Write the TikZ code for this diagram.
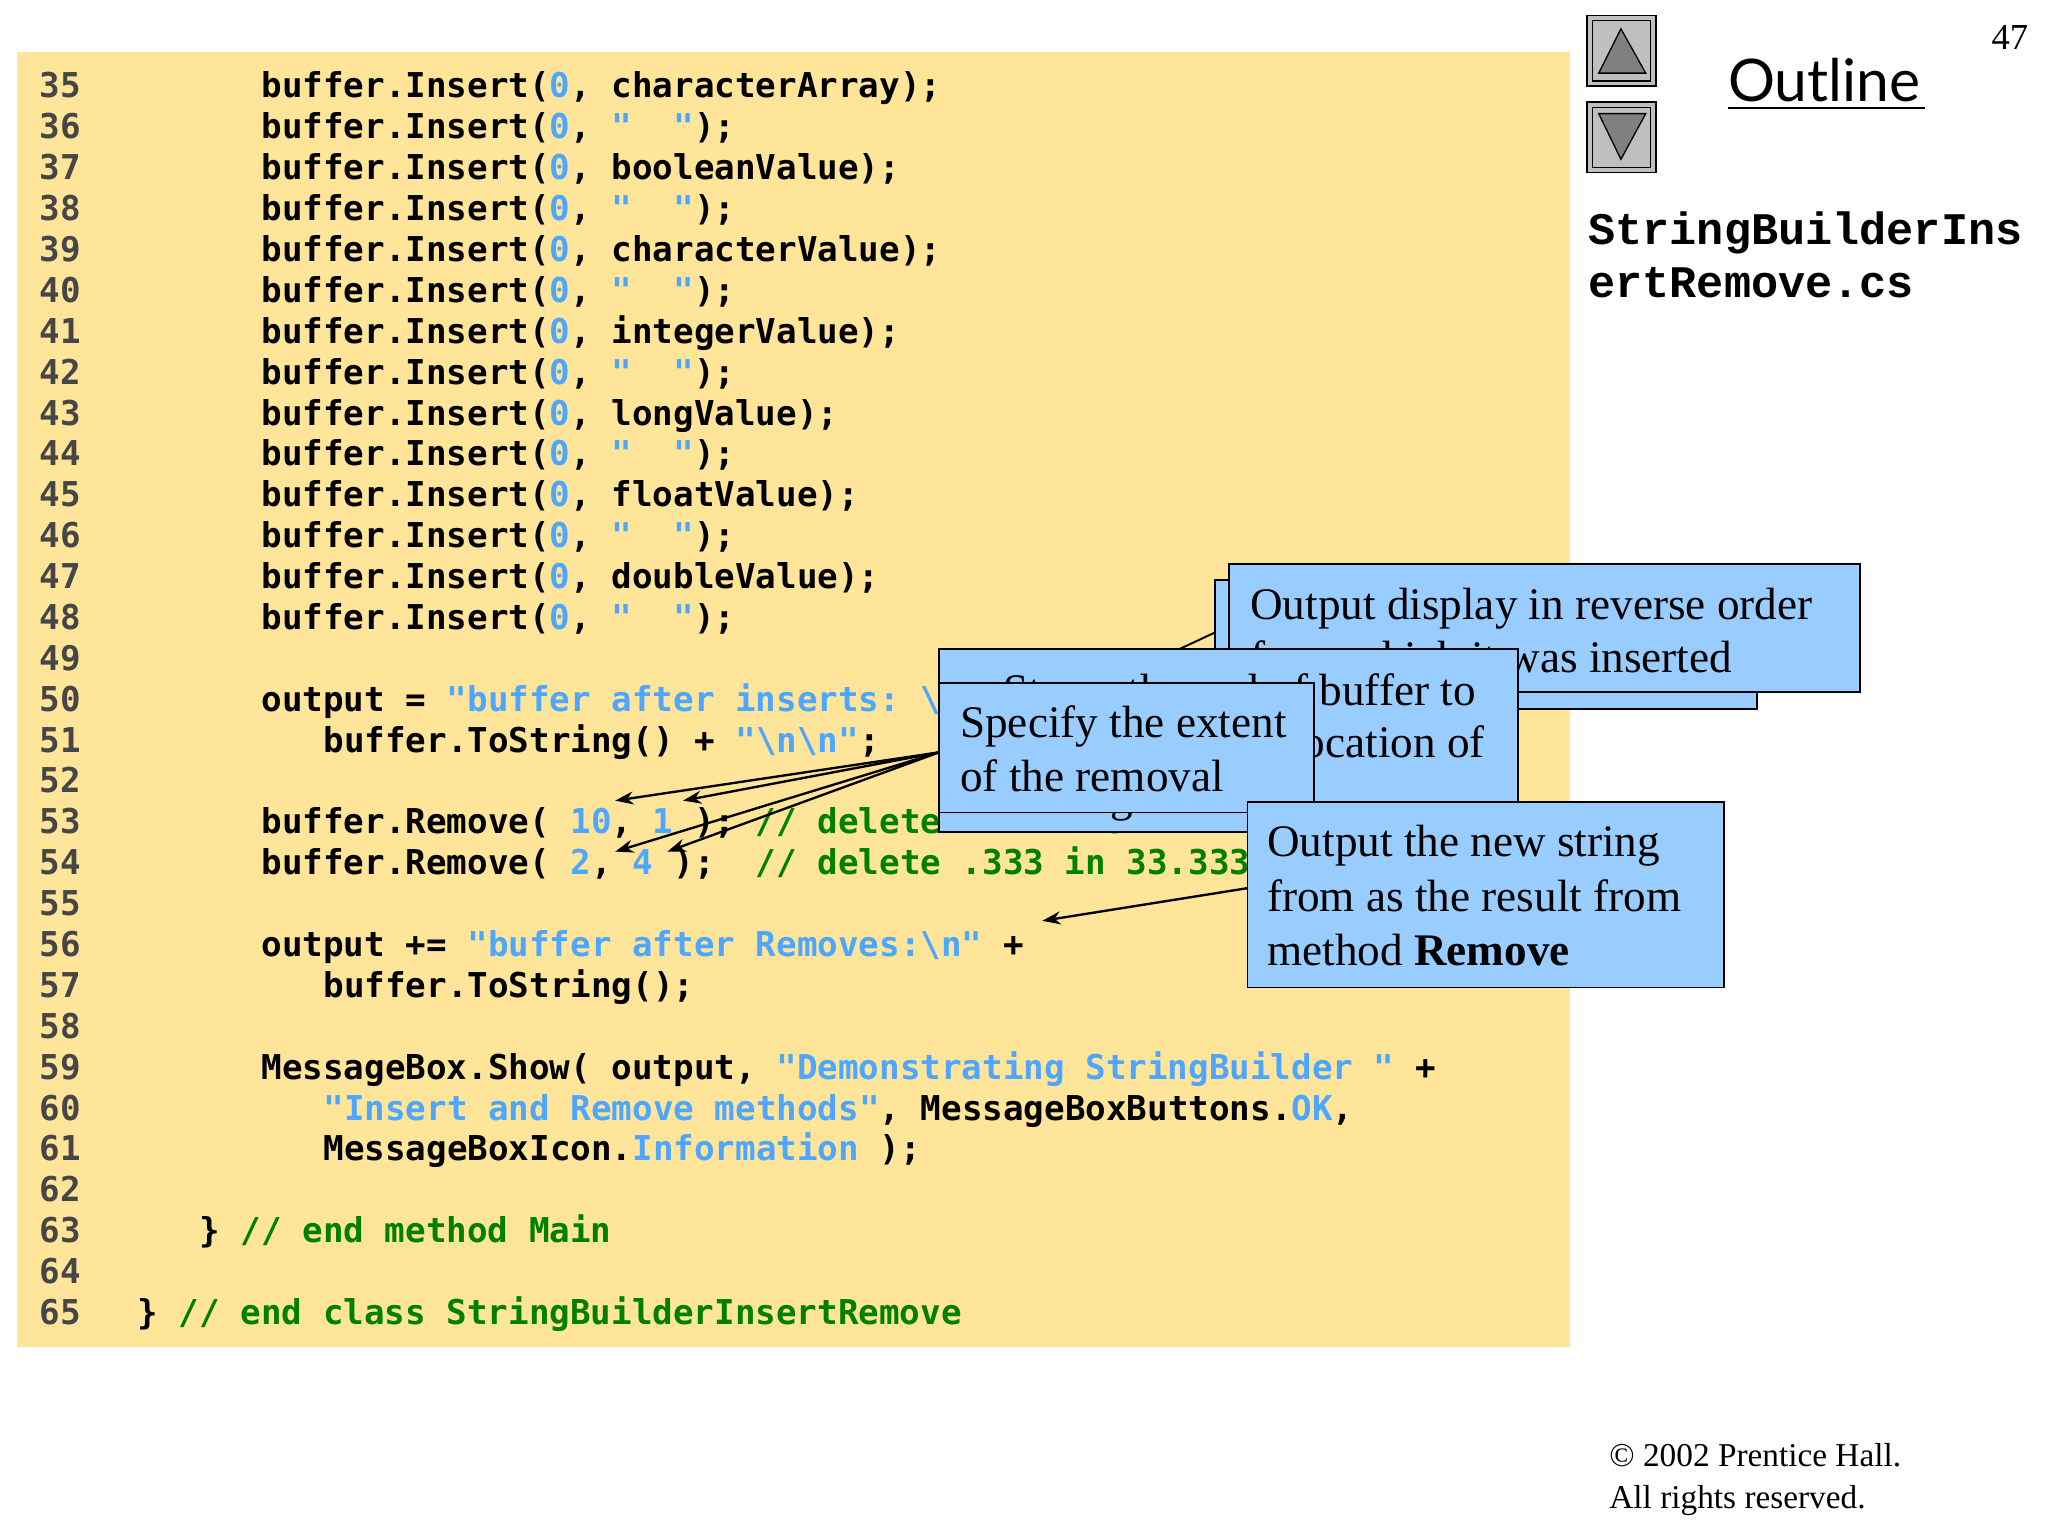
\documentclass[tikz,border=0pt]{standalone}
\usepackage{fontspec}
\setmainfont{Liberation Serif}
\newfontfamily\codef{DejaVu Sans Mono Bold}
\newfontfamily\fnf{Liberation Mono}[BoldFont={Liberation Mono Bold}]
\newfontfamily\outf{Lato}
\usetikzlibrary{arrows.meta}
\definecolor{codebg}{RGB}{255,229,153}
\definecolor{boxbg}{RGB}{153,204,255}
\definecolor{kblue}{RGB}{77,166,255}
\definecolor{kgreen}{RGB}{0,128,0}
\definecolor{lnum}{RGB}{70,70,70}
\newcommand\Sb[1]{\textcolor{kblue}{#1}}
\newcommand\Gc[1]{\textcolor{kgreen}{#1}}
\tikzset{
 code/.style={anchor=base west,inner sep=0,font=\codef\fontsize{26.2}{30}\selectfont},
 lno/.style={anchor=base west,inner sep=0,font=\codef\fontsize{26.2}{30}\selectfont,text=lnum},
 box/.style={draw=black,line width=1.3pt,fill=boxbg},
 ct/.style={inner sep=0,font=\fontsize{34.6}{40}\selectfont},
 arr/.style={line width=1.8pt,-{Stealth[length=14pt,width=10pt]}},
}
\newcommand\cl[3]{\node[lno] (n#1) at (30,{75+31.3*(#1-35)}) {#1};
 \node[code] (c#1) at ({73.6+15.8*#2},{75+31.3*(#1-35)}) {#3};}
\begin{document}
\begin{tikzpicture}[x=1pt,y=-1pt]
\useasboundingbox (0,0) rectangle (1568,1176);
\fill[codebg] (13,40) rectangle (1202,1031);
\cl{35}{8}{buffer.Insert(\Sb{0},~characterArray);}
\cl{36}{8}{buffer.Insert(\Sb{0},~\Sb{"~~"});}
\cl{37}{8}{buffer.Insert(\Sb{0},~booleanValue);}
\cl{38}{8}{buffer.Insert(\Sb{0},~\Sb{"~~"});}
\cl{39}{8}{buffer.Insert(\Sb{0},~characterValue);}
\cl{40}{8}{buffer.Insert(\Sb{0},~\Sb{"~~"});}
\cl{41}{8}{buffer.Insert(\Sb{0},~integerValue);}
\cl{42}{8}{buffer.Insert(\Sb{0},~\Sb{"~~"});}
\cl{43}{8}{buffer.Insert(\Sb{0},~longValue);}
\cl{44}{8}{buffer.Insert(\Sb{0},~\Sb{"~~"});}
\cl{45}{8}{buffer.Insert(\Sb{0},~floatValue);}
\cl{46}{8}{buffer.Insert(\Sb{0},~\Sb{"~~"});}
\cl{47}{8}{buffer.Insert(\Sb{0},~doubleValue);}
\cl{48}{8}{buffer.Insert(\Sb{0},~\Sb{"~~"});}
\cl{49}{8}{}
\cl{50}{8}{output~=~\Sb{"buffer~after~inserts:~\textbackslash n"}~+}
\cl{51}{11}{buffer.ToString()~+~\Sb{"\textbackslash n\textbackslash n"};}
\cl{52}{8}{}
\cl{53}{8}{buffer.Remove(~\Sb{10},~\Sb{1}~);~\Gc{//~delete~2~in~2.5}}
\cl{54}{8}{buffer.Remove(~\Sb{2},~\Sb{4}~);~~\Gc{//~delete~.333~in~33.333}}
\cl{55}{8}{}
\cl{56}{8}{output~+=~\Sb{"buffer~after~Removes:\textbackslash n"}~+}
\cl{57}{11}{buffer.ToString();}
\cl{58}{8}{}
\cl{59}{8}{MessageBox.Show(~output,~\Sb{"Demonstrating~StringBuilder~"}~+}
\cl{60}{11}{\Sb{"Insert~and~Remove~methods"},~MessageBoxButtons.\Sb{OK},}
\cl{61}{11}{MessageBoxIcon.\Sb{Information}~);}
\cl{62}{8}{}
\cl{63}{5}{\}~\Gc{//~end~method~Main}}
\cl{64}{8}{}
\cl{65}{2}{\}~\Gc{//~end~class~StringBuilderInsertRemove}}
% right panel
\foreach \y in {12,78}{
 \fill[gray!50] (1215,\y) rectangle (1268,\y+54);
 \draw[line width=1.2pt] (1215,\y) rectangle (1268,\y+54);
 \draw[line width=0.8pt] (1219,\y+4) rectangle (1264,\y+50);
}
\draw[fill=gray,line width=1pt] (1224,56) -- (1260,56) -- (1241,22) -- cycle;
\draw[fill=gray,line width=1pt] (1224,87) -- (1260,87) -- (1241,122) -- cycle;
\node[anchor=base west,inner sep=0,font=\outf\fontsize{45}{50}\selectfont] (outl) at (1323,78) {Outline};
\draw[line width=1.5pt] (1323,83) -- (1474,83);
\node[anchor=base east,inner sep=0,font=\fontsize{28}{30}\selectfont] (pg) at (1553,38) {47};
\node[anchor=base west,inner sep=0,font=\fnf\bfseries\fontsize{34.6}{40}\selectfont] (fn1) at (1216,187) {StringBuilderIns};
\node[anchor=base west,inner sep=0,font=\fnf\bfseries\fontsize{34.6}{40}\selectfont] (fn2) at (1216,228) {ertRemove.cs};
\node[anchor=base west,inner sep=0,font=\fontsize{25.5}{30}\selectfont] (cp1) at (1232,1123) {\textcopyright\ 2002 Prentice Hall.};
\node[anchor=base west,inner sep=0,font=\fontsize{25.5}{30}\selectfont] (cp2) at (1232,1155) {All rights reserved.};
% callout A
\coordinate (a0) at (800,545);
\draw[line width=1.5pt] (a0) -- (935,482);
\draw[box] (930,444) rectangle (1345,543);
\draw[box] (941,432) rectangle (1424,530);
\node[ct,anchor=base west] (at1) at (957,474) {Output display in reverse order};
\node[ct,anchor=base west] (at2) at (957,515) {from which it was inserted};
% callout B
\draw[box] (719,497) rectangle (1162,637);
\node[ct,anchor=base east] (bt1) at (1130,540) {Stores the end of buffer to};
\node[ct,anchor=base east] (bt2) at (1137,580) {the new location of};
\node[ct,anchor=base east] (bt3) at (868,621) {the string};
\draw[box] (719,523) rectangle (1006,622);
\node[ct,anchor=base west] (st1) at (735,565) {Specify the extent};
\node[ct,anchor=base west] (st2) at (735,606) {of the removal};
\coordinate (s0) at (719,576);
\coordinate (t1) at (471,613);
\coordinate (t2) at (523,613);
\coordinate (t3) at (471,652);
\coordinate (t4) at (511,652);
\foreach \t in {t1,t2,t3,t4} \draw[arr] (s0) -- (\t);
% callout C
\draw[box] (955,614) rectangle (1320,756);
\node[ct,anchor=base west] (ct1) at (970,656) {Output the new string};
\node[ct,anchor=base west] (ct2) at (970,698) {from as the result from};
\node[ct,anchor=base west] (ct3) at (970,739) {method \textbf{Remove}};
\coordinate (c0) at (955,680);
\coordinate (c1) at (798,705);
\draw[arr] (c0) -- (c1);
\end{tikzpicture}
\end{document}
